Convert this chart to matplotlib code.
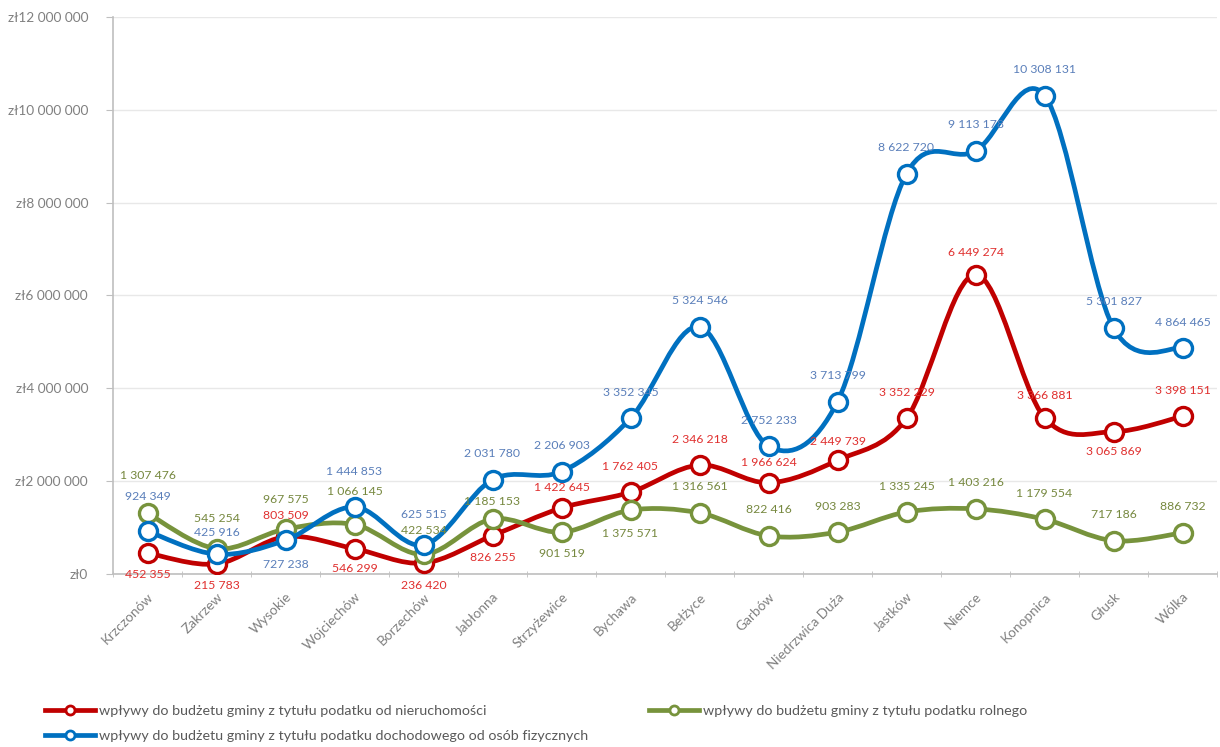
import matplotlib
matplotlib.use('Agg')
import matplotlib.pyplot as plt
from matplotlib.path import Path
from matplotlib.patches import PathPatch
from matplotlib.lines import Line2D
from matplotlib.ticker import FuncFormatter

plt.rcParams['font.family'] = ['Lato', 'DejaVu Sans']

gminy = ['Krzczonów', 'Zakrzew', 'Wysokie', 'Wojciechów', 'Borzechów', 'Jabłonna',
         'Strzyżewice', 'Bychawa', 'Bełżyce', 'Garbów', 'Niedrzwica Duża', 'Jastków',
         'Niemce', 'Konopnica', 'Głusk', 'Wólka']

nieruchomosci = [452355, 215783, 803509, 546299, 236420, 826255, 1422645, 1762405,
                 2346218, 1966624, 2449739, 3352229, 6449274, 3366881, 3065869, 3398151]
rolny = [1307476, 545254, 967575, 1066145, 422534, 1185153, 901519, 1375571,
         1316561, 822416, 903283, 1335245, 1403216, 1179554, 717186, 886732]
pit = [924349, 425916, 727238, 1444853, 625515, 2031780, 2206903, 3352345,
       5324546, 2752233, 3713799, 8622720, 9113178, 10308131, 5301827, 4864465]

nazwy = ['wpływy do budżetu gminy z tytułu podatku od nieruchomości',
         'wpływy do budżetu gminy z tytułu podatku rolnego',
         'wpływy do budżetu gminy z tytułu podatku dochodowego od osób fizycznych']

# przesunięcia etykiet w pikselach (+ nad punktem, - pod punktem)
off_red = [-21, -22, 21, -20, -22, -22, 20, 26, 26, 20, 19, 26, 22, 22, -20, 26]
off_green = [38, 30, 30, 33, 24, 17, -21, -23, 26, 26, 26, 26, 26, 26, 26, 26]
off_blue = [35, 22, -24, 35, 30, 26, 26, 26, 26, 26, 26, 26, 26, 26, 26, 26]


def smooth_path(xs, ys):  # krzywa jak "wygładzona linia" w Excelu (Catmull-Rom -> Bezier)
    pts = list(zip(xs, ys))
    n = len(pts)
    verts = [pts[0]]
    codes = [Path.MOVETO]
    for i in range(n - 1):
        p0 = pts[i - 1] if i > 0 else pts[i]
        p1 = pts[i]
        p2 = pts[i + 1]
        p3 = pts[i + 2] if i + 2 < n else pts[i + 1]
        c1 = (p1[0] + (p2[0] - p0[0]) / 6, p1[1] + (p2[1] - p0[1]) / 6)
        c2 = (p2[0] - (p3[0] - p1[0]) / 6, p2[1] - (p3[1] - p1[1]) / 6)
        verts += [c1, c2, p2]
        codes += [Path.CURVE4] * 3
    return Path(verts, codes)


def fmt(v):
    return '{:,}'.format(v).replace(',', ' ')


fig = plt.figure(figsize=(12.2, 7.47), dpi=100)
ax = fig.add_axes([113 / 1220, 1 - 574 / 747, 1104 / 1220, 557 / 747])

series = [
    (nieruchomosci, '#C00000', '#E0302F', off_red),
    (rolny, '#77933C', '#76883F', off_green),
    (pit, '#0070C0', '#5A7FBA', off_blue),
]
xs = list(range(len(gminy)))
for z, (vals, col, lcol, offs) in enumerate(series):
    ax.add_patch(PathPatch(smooth_path(xs, vals), fill=False, edgecolor=col, lw=3.4,
                           capstyle='round', joinstyle='round', zorder=3 + z))
    ax.plot(xs, vals, ls='none', marker='o', ms=13, mfc='white', mec=col, mew=2.4,
            zorder=3.5 + z)
    for x, v, o in zip(xs, vals, offs):
        ax.annotate(fmt(v), (x, v), xytext=(0, o * 0.72), textcoords='offset points',
                    ha='center', va='center', fontsize=8.8, color=lcol, zorder=10)

ax.set_xlim(-0.5, len(gminy) - 0.5)
ax.set_ylim(0, 12000000)
ax.set_yticks(range(0, 12000001, 2000000))
ax.yaxis.set_major_formatter(FuncFormatter(lambda v, p: 'zł' + fmt(int(v))))
ax.set_xticks(xs)
ax.set_xticklabels(gminy, rotation=45, ha='right', rotation_mode='anchor')
ax.set_xticks([x + 0.5 for x in range(-1, len(gminy))], minor=True)
ax.tick_params(axis='x', which='major', length=0, pad=12, labelsize=9.8, labelcolor='#808080')
ax.tick_params(axis='x', which='minor', length=5, color='#BFBFBF', direction='inout')
ax.tick_params(axis='y', length=5, color='#BFBFBF', labelsize=9.8, labelcolor='#808080', pad=13)
ax.grid(axis='y', color='#E8E8E8', lw=1)
ax.set_axisbelow(True)
for s in ['top', 'right']:
    ax.spines[s].set_visible(False)
for s in ['left', 'bottom']:
    ax.spines[s].set_color('#BFBFBF')
    ax.spines[s].set_linewidth(1.2)


def handle(col):
    return Line2D([], [], color=col, lw=3.4, marker='o', ms=6.5, mfc='white', mec=col, mew=2)


leg_kw = dict(frameon=False, fontsize=10.3, labelcolor='#595959', handlelength=3.5,
              handletextpad=0.25, borderpad=0, borderaxespad=0, labelspacing=0.85)
fig.legend([handle('#C00000'), handle('#0070C0')], [nazwy[0], nazwy[2]], loc='center left',
           bbox_to_anchor=(45 / 1220, 1 - 723.5 / 747), **leg_kw)
fig.legend([handle('#77933C')], [nazwy[1]], loc='center left',
           bbox_to_anchor=(649 / 1220, 1 - 711 / 747), **leg_kw)

fig.savefig('out.png', dpi=100)
